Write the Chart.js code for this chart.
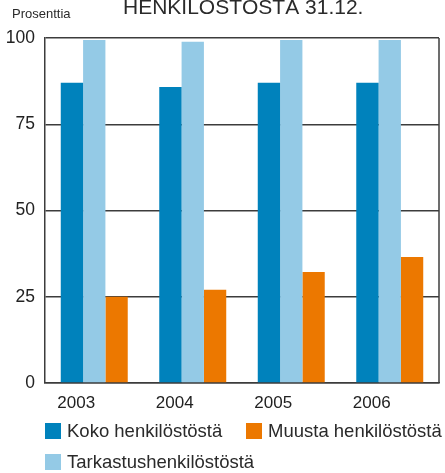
<!DOCTYPE html>
<html>
<head>
<meta charset="utf-8">
<script src="https://cdn.jsdelivr.net/npm/chart.js@4"></script>
<style>
  html, body { margin: 0; padding: 0; background: #fff; }
  body { width: 445px; height: 473px; position: relative; overflow: hidden;
         font-family: "Liberation Sans", Arial, sans-serif; color: #2a2a2a; }
  #wrap { position: absolute; left: 0; top: 0; width: 445px; height: 473px; }
  .txt { position: absolute; white-space: nowrap; line-height: 1; }
  .box { position: absolute; width: 16px; height: 16px; }
</style>
</head>
<body>
<div id="wrap"><canvas id="chart" width="445" height="473"></canvas></div>
<div class="txt" style="left:123px; top:-4px; font-size:21px;">HENKILÖSTÖSTÄ 31.12.</div>
<div class="txt" style="left:12px; top:7px; font-size:13px;">Prosenttia</div>
<div id="legend"></div>
<script>
// data
var years = ['2003', '2004', '2005', '2006'];
var koko = [87.0, 85.8, 87.0, 87.0];
var tarkastus = [99.4, 98.9, 99.4, 99.4];
var muusta = [25.0, 27.0, 32.2, 36.5];
var yTicks = [0, 25, 50, 75, 100];

var colors = {
    koko: '#0082bc',
    tarkastus: '#94cae6',
    muusta: '#ec7800'
};

// legend in html, same layout as the original
var legendItems = [
    { label: 'Koko henkilöstöstä', color: colors.koko, x: 45, y: 423 },
    { label: 'Muusta henkilöstöstä', color: colors.muusta, x: 246, y: 423 },
    { label: 'Tarkastushenkilöstöstä', color: colors.tarkastus, x: 45, y: 454 }
];
var legend = document.getElementById('legend');
legendItems.forEach(function (it) {
    var b = document.createElement('div');
    b.className = 'box';
    b.style.left = it.x + 'px';
    b.style.top = it.y + 'px';
    b.style.background = it.color;
    legend.appendChild(b);
    var t = document.createElement('div');
    t.className = 'txt';
    t.style.left = (it.x + 22) + 'px';
    t.style.top = (it.y - 1) + 'px';
    t.style.fontSize = '18.5px';
    t.textContent = it.label;
    legend.appendChild(t);
});

// right edge of the frame
var frame = {
    id: 'frame',
    afterDraw: function (chart) {
        var a = chart.chartArea, c = chart.ctx;
        c.save();
        c.strokeStyle = '#3c3c3c';
        c.lineWidth = 1.5;
        c.beginPath();
        c.moveTo(a.right, a.top);
        c.lineTo(a.right, a.bottom);
        c.stroke();
        c.restore();
    }
};

var ctx = document.getElementById('chart').getContext('2d');
var chart = new Chart(ctx, {
    type: 'bar',
    data: {
        labels: years,
        datasets: [
            { label: 'Koko henkilöstöstä', data: koko, backgroundColor: colors.koko },
            { label: 'Tarkastushenkilöstöstä', data: tarkastus, backgroundColor: colors.tarkastus },
            { label: 'Muusta henkilöstöstä', data: muusta, backgroundColor: colors.muusta }
        ]
    },
    options: {
        responsive: false,
        animation: false,
        layout: { padding: { top: 38, right: 6, left: 0, bottom: 0 } },
        datasets: {
            bar: { categoryPercentage: 0.68, barPercentage: 1.0, borderWidth: 0 }
        },
        plugins: {
            legend: { display: false },
            tooltip: { enabled: false },
            title: { display: false }
        },
        scales: {
            x: {
                grid: { display: false, drawTicks: false },
                border: { color: '#3c3c3c', width: 1.5 },
                ticks: {
                    color: '#222',
                    font: { family: 'Liberation Sans', size: 17 },
                    padding: 10,
                    labelOffset: -18,
                    maxRotation: 0
                },
                afterFit: function (scale) { scale.height = 90; }
            },
            y: {
                min: 0,
                max: 100,
                afterBuildTicks: function (scale) {
                    scale.ticks = yTicks.map(function (v) { return { value: v }; });
                },
                grid: { color: '#3c3c3c', lineWidth: 1.5, drawTicks: false },
                border: { color: '#3c3c3c', width: 1.5 },
                ticks: {
                    color: '#222',
                    font: { family: 'Liberation Sans', size: 17.5 },
                    padding: 10
                },
                afterFit: function (scale) { scale.width = 45; }
            }
        }
    },
    plugins: [frame]
});
</script>
</body>
</html>
